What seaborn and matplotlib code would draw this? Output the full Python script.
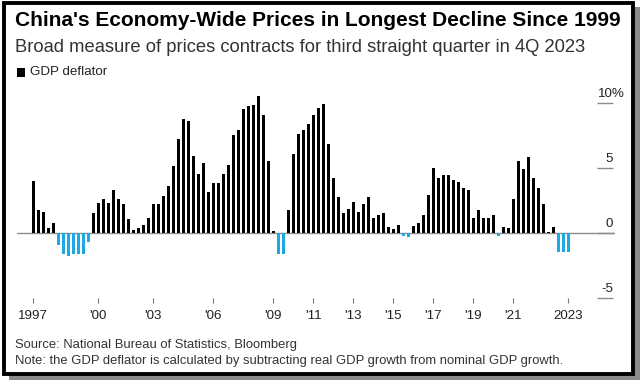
import numpy as np
import pandas as pd
import matplotlib.pyplot as plt
import seaborn as sns
from matplotlib.patches import Rectangle

# quarterly GDP deflator, 1997Q1 .. 2023Q4 (y/y %)
years = list(range(1997, 2024))
deflator = [
    4.0, 1.8, 1.6, 0.4,      # 1997
    0.8, -0.95, -1.6, -1.75,  # 1998
    -1.6, -1.6, -1.65, -0.7,  # 1999
    1.5, 2.3, 2.6, 2.3,       # 2000
    3.3, 2.6, 2.2, 1.05,      # 2001
    0.25, 0.4, 0.65, 1.15,    # 2002
    2.25, 2.25, 2.85, 3.65,   # 2003
    5.15, 7.25, 8.75, 8.65,   # 2004
    5.95, 4.55, 5.35, 3.15,   # 2005
    3.85, 3.85, 4.5, 5.25,    # 2006
    7.55, 7.95, 9.5, 9.75,    # 2007
    9.85, 10.5, 9.1, 5.55,    # 2008
    0.15, -1.65, -1.6, 1.75,  # 2009
    6.05, 7.65, 7.95, 8.35,   # 2010
    9.1, 9.65, 9.95, 6.85,    # 2011
    4.2, 2.75, 1.55, 1.85,    # 2012
    2.4, 1.65, 2.25, 2.75,    # 2013
    1.15, 1.4, 1.5, 0.45,     # 2014
    0.3, 0.6, -0.2, -0.3,     # 2015
    0.55, 0.75, 1.35, 2.95,   # 2016
    5.0, 4.25, 4.45, 4.45,    # 2017
    4.1, 3.9, 3.45, 3.3,      # 2018
    1.15, 1.75, 1.15, 1.15,   # 2019
    1.35, -0.25, 0.45, 0.35,  # 2020
    2.6, 5.55, 4.95, 5.85,    # 2021
    4.2, 3.45, 2.25, 0.05,    # 2022
    0.45, -1.45, -1.45, -1.5, # 2023
]
quarters = [f"{y}Q{q}" for y in years for q in range(1, 5)]

tick_pos = [0, 13, 24, 36, 48, 56, 64, 72, 80, 88, 96, 107]
tick_labels = ["1997", "'00", "'03", "'06", "'09", "'11", "'13", "'15",
               "'17", "'19", "'21", "2023"]

df = pd.DataFrame({"quarter": quarters, "value": deflator})
df["sign"] = np.where(df["value"] < 0, "neg", "pos")

W, H = 644, 387
def fx(px):
    return px / W
def fy(py):
    return 1 - py / H

sns.set_theme(style="white")
plt.rcParams["font.family"] = ["Liberation Sans", "DejaVu Sans"]

fig = plt.figure(figsize=(W / 100, H / 100), dpi=100)
fig.patch.set_facecolor("white")

# frame with drop shadow
fig.patches.append(Rectangle((fx(9), fy(380)), fx(631), 373 / H, transform=fig.transFigure,
                             facecolor="#8a8a8a", edgecolor="none", zorder=-3))
fig.patches.append(Rectangle((fx(4), fy(374)), fx(629), 371 / H, transform=fig.transFigure,
                             facecolor="white", edgecolor="black", linewidth=2.8, zorder=-2))

zero_px = 233
unit = 13.0
top_px, bot_px = 96, 303
ax = fig.add_axes([fx(17), fy(bot_px), fx(615 - 17), (bot_px - top_px) / H])
ax.patch.set_alpha(0)

sns.barplot(data=df, x="quarter", y="value", hue="sign",
            palette={"pos": "#000000", "neg": "#1ea9e4"},
            dodge=False, width=0.68, legend=False, saturation=1,
            linewidth=0, edgecolor="none", ax=ax)

x0 = (17 - 33.3) / 5
x1 = (615 - 33.3) / 5
ax.set_xlim(x0, x1)
ax.set_ylim(-(bot_px - zero_px) / unit, (zero_px - top_px) / unit)

ax.axhline(0, color="#8c8c8c", linewidth=1.0, zorder=0)
for v in [10, 5, 0, -5]:
    ax.hlines(v, (597 - 33.3) / 5, (613 - 33.3) / 5, color="#8c8c8c", linewidth=1.0)

for s in ax.spines.values():
    s.set_visible(False)
ax.set_yticks([])
ax.set_xlabel("")
ax.set_ylabel("")
ax.set_xticks(tick_pos)
ax.set_xticklabels(tick_labels)
ax.tick_params(axis="x", direction="in", length=3.6, width=0.8, color="#777777",
               labelsize=9.6, labelcolor="#222222", pad=5, bottom=True)

# right-side value labels above tick lines
ax.text((598 - 33.3) / 5, 10 + 3 / unit, "10%", ha="left", va="bottom", fontsize=9.6, color="#222222")
for v, lab in [(5, "5"), (0, "0"), (-5, "-5")]:
    ax.text((613 - 33.3) / 5, v + 3 / unit, lab, ha="right", va="bottom", fontsize=9.6, color="#222222")

fig.text(fx(15), fy(20), "China's Economy-Wide Prices in Longest Decline Since 1999",
         fontsize=15, fontweight="bold", color="black", va="center", ha="left")
fig.text(fx(15), fy(47), "Broad measure of prices contracts for third straight quarter in 4Q 2023",
         fontsize=13.2, color="#333333", va="center", ha="left")
fig.patches.append(Rectangle((fx(17), fy(77)), fx(8), 9 / H, transform=fig.transFigure,
                             facecolor="black", edgecolor="none", zorder=2))
fig.text(fx(30), fy(72), "GDP deflator", fontsize=9.6, color="#222222", va="center", ha="left")

fig.text(fx(15), fy(345), "Source: National Bureau of Statistics, Bloomberg",
         fontsize=9.4, color="#333333", va="center", ha="left")
fig.text(fx(15), fy(361), "Note: the GDP deflator is calculated by subtracting real GDP growth from nominal GDP growth.",
         fontsize=9.4, color="#333333", va="center", ha="left")

fig.savefig("out.png", dpi=100)
